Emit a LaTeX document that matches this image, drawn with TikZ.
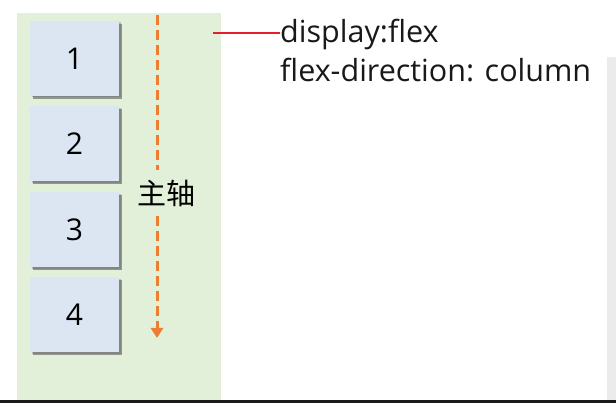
\documentclass[tikz,border=0pt]{standalone}
\usepackage{fontspec}
\setmainfont{Open Sans}
\newfontfamily\cjk{Noto Sans CJK SC}
\usetikzlibrary{arrows.meta,shadows}
\definecolor{panelgreen}{HTML}{E2EFD9}
\definecolor{boxblue}{HTML}{DCE6F2}
\definecolor{axisorange}{HTML}{ED7D31}
\definecolor{linered}{HTML}{E0202A}
\tikzset{
  item/.style={fill=boxblue, minimum width=89pt, minimum height=75pt, inner sep=0pt,
    font=\fontsize{30}{32}\selectfont,
    double copy shadow={shadow xshift=1.5pt, shadow yshift=-1.5pt, fill=black!60, opacity=.35, draw=none},
    drop shadow={shadow xshift=3pt, shadow yshift=-3pt, fill=black!60, opacity=.45}},
  axis/.style={axisorange, line width=3pt, dash pattern=on 10pt off 5pt},
  note/.style={anchor=base west, inner sep=0pt, font=\fontsize{30.5}{34}\selectfont, text=black!90},
}
\begin{document}
\begin{tikzpicture}[x=1pt,y=-1pt]
\useasboundingbox (0,0) rectangle (616,403);
\fill[white] (0,0) rectangle (616,403);
% panel
\fill[panelgreen] (17,13) rectangle (221,400);
% right grey strip and bottom edge
\fill[black!8] (607,57) rectangle (616,400);
\fill[black!90] (0,400) rectangle (616,403);
% items
\node[item] (b1) at (74.5,58.5) {1};
\node[item] (b2) at (74.5,144) {2};
\node[item] (b3) at (74.5,230) {3};
\node[item] (b4) at (74.5,315) {4};
% main axis
\coordinate (atop) at (157,15);
\coordinate (abot) at (157,338);
\node[font=\cjk\fontsize{29}{32}\selectfont, inner sep=0pt] (lbl) at (166.5,193) {主轴};
\draw[axis] (atop) -- (157,170);
\draw[axis, -{Triangle[width=12pt,length=10pt]}] (157,216) -- (abot);
% notes
\node[note] (t1) at (280,43) {display:flex};
\node[note] (t2) at (280,82) {flex-direction: column};
\coordinate (rl) at (213,33);
\draw[linered, line width=2pt] (rl) -- (t1.west |- rl) -- ++(-3,0);
\end{tikzpicture}
\end{document}
